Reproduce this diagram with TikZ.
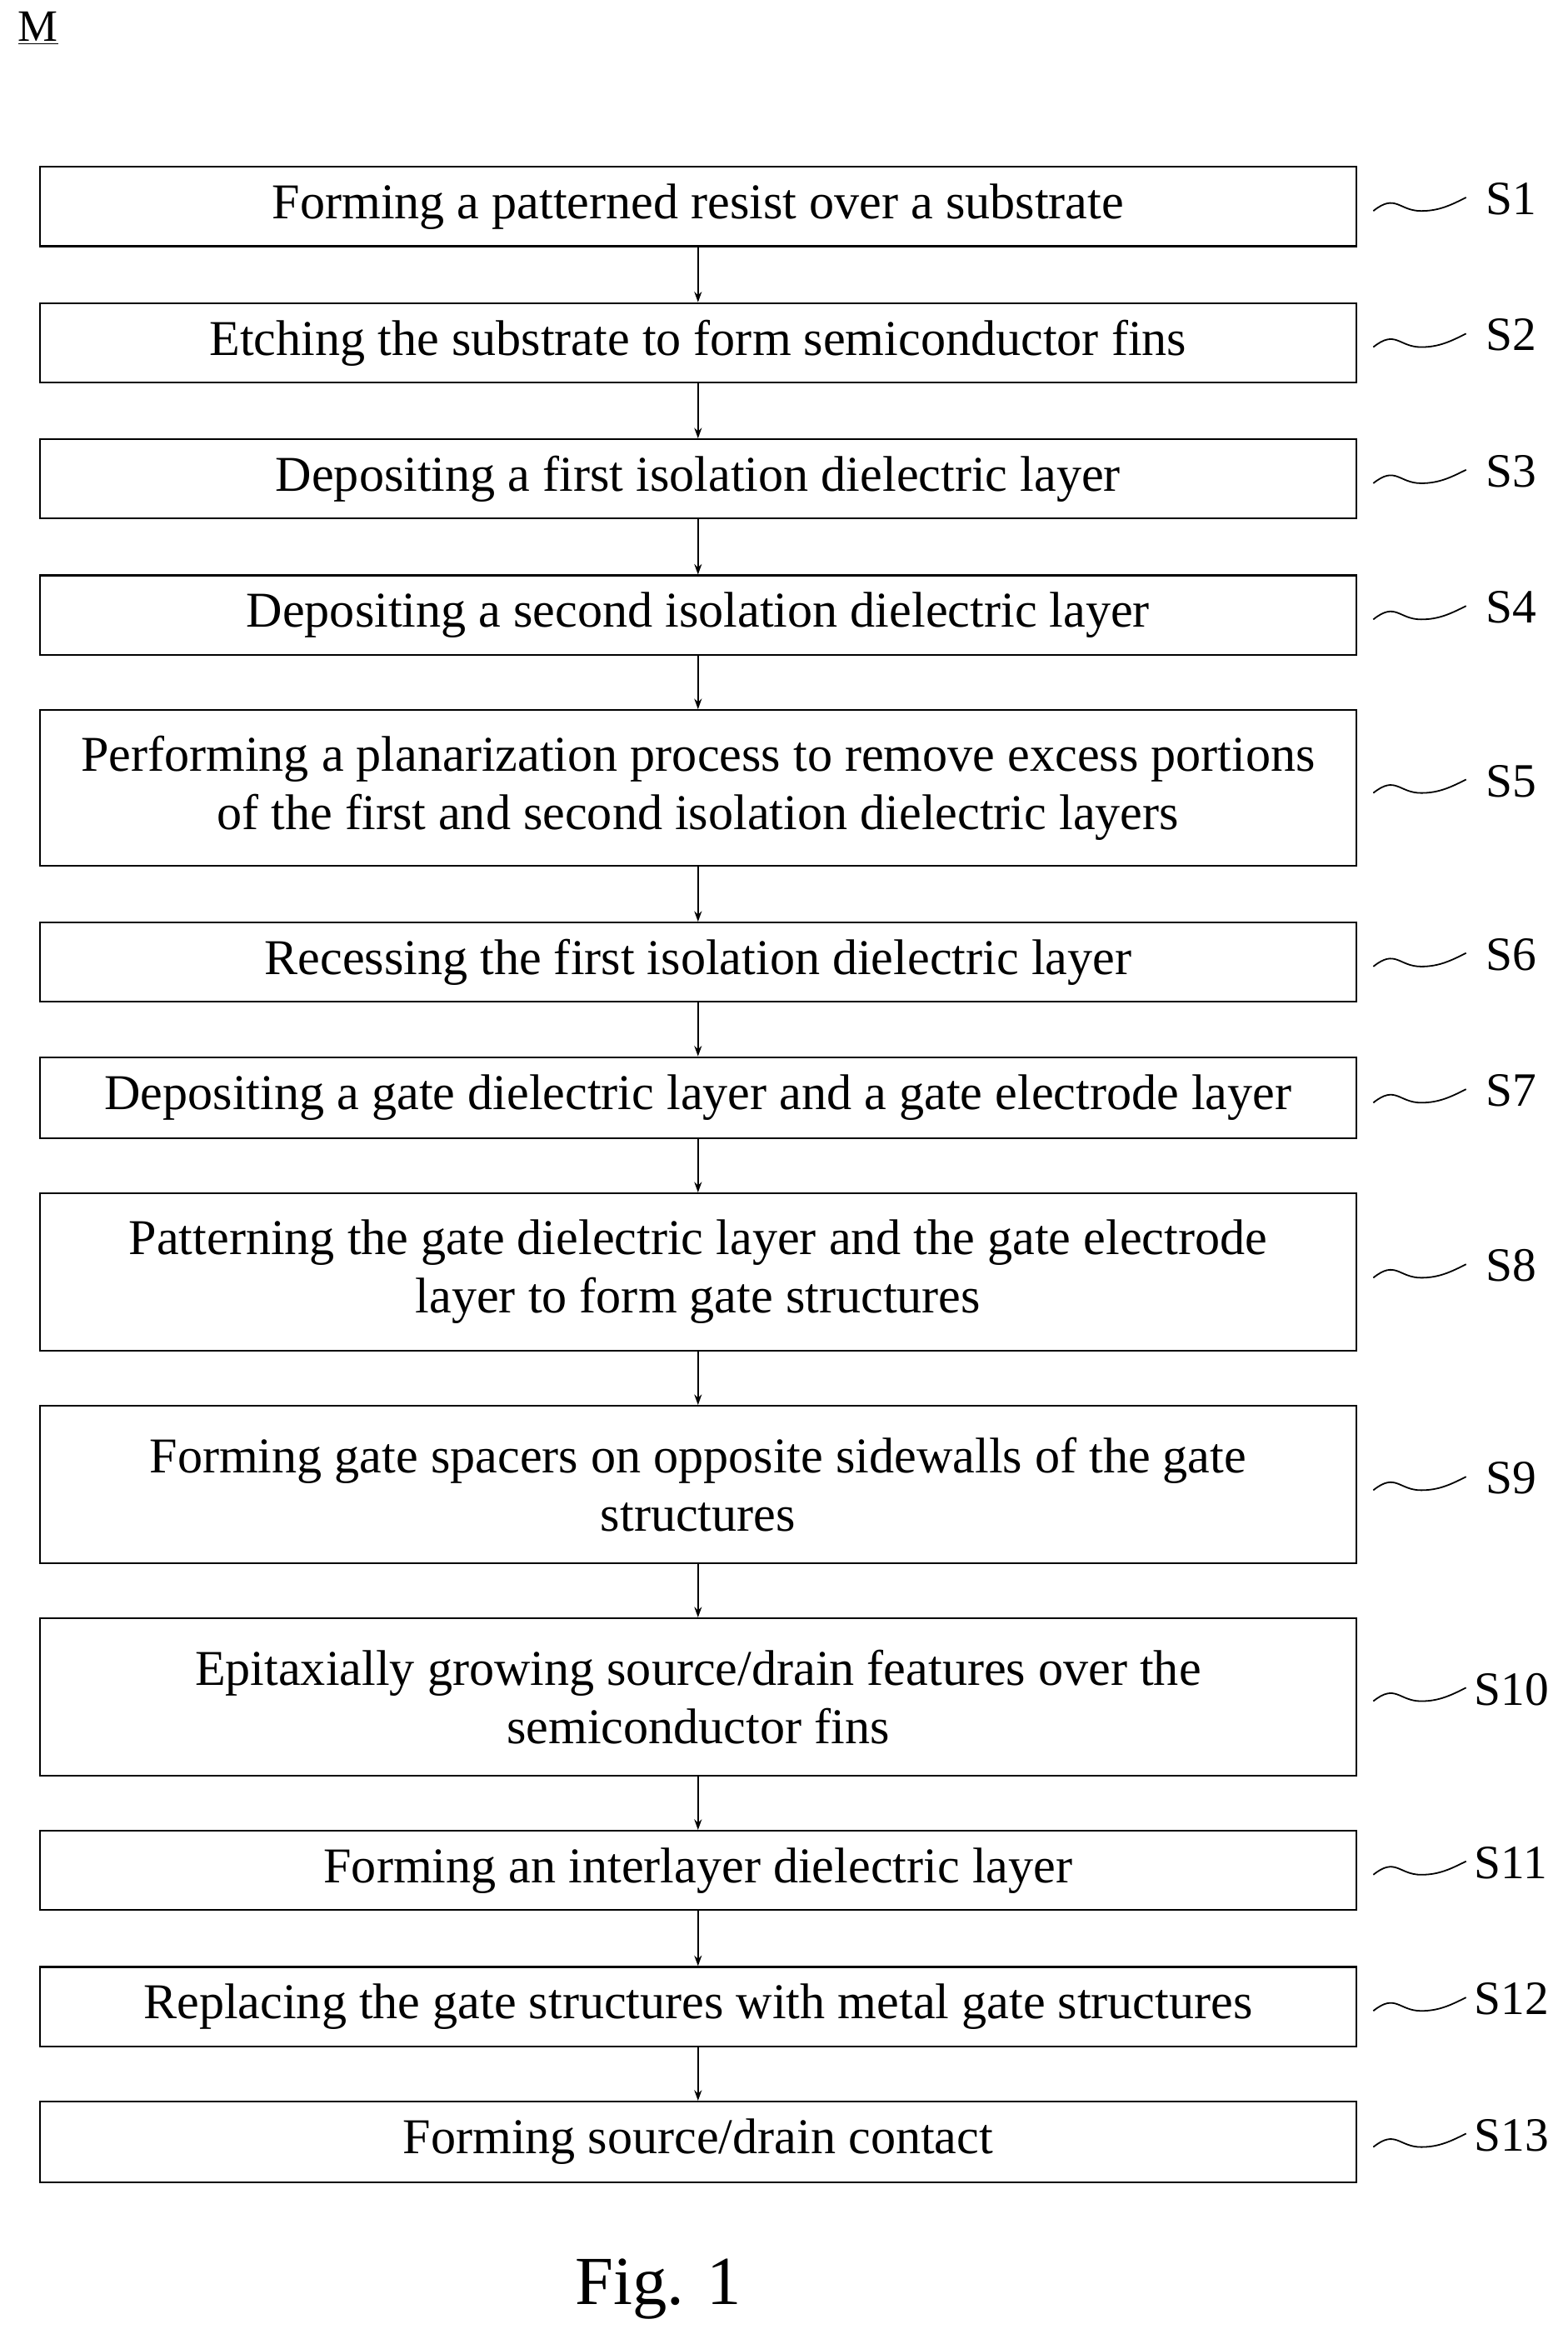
\documentclass[tikz,border=0pt]{standalone}
\usepackage{fontspec}
\setmainfont{Liberation Serif}
\usetikzlibrary{arrows.meta}
\begin{document}
\begin{tikzpicture}[x=1pt,y=-1pt,
  stepbox/.style={draw,line width=1.2pt,minimum width=880pt,anchor=north west,align=center,font=\fontsize{33.5}{39}\selectfont,inner sep=0pt},
  arr/.style={-{Stealth[length=7pt,width=5pt]},line width=1pt},
  wave/.style={line width=1pt},
  lab/.style={font=\fontsize{32}{34}\selectfont,anchor=west}]
\useasboundingbox (0,0) rectangle (1048,1570);
\node[anchor=north west,font=\fontsize{30}{32}\selectfont,inner sep=0pt] (M) at (12,8) {\underline{M}};
\foreach \n/\y/\h/\t/\ly/\lx in {
 1/111/53/{Forming a patterned resist over a substrate}/133/990,
 2/202/53/{Etching the substrate to form semiconductor fins}/224/990,
 3/293/53/{Depositing a first isolation dielectric layer}/315/990,
 4/384/53/{Depositing a second isolation dielectric layer}/406/990,
 5/474/104/{Performing a planarization process to remove excess portions\\of the first and second isolation dielectric layers}/522/990,
 6/616/53/{Recessing the first isolation dielectric layer}/638/990,
 7/706/54/{Depositing a gate dielectric layer and a gate electrode layer}/729/990,
 8/797/105/{Patterning the gate dielectric layer and the gate electrode\\layer to form gate structures}/846/990,
 9/939/105/{Forming gate spacers on opposite sidewalls of the gate\\structures}/988/990,
 10/1081/105/{Epitaxially growing source/drain features over the\\semiconductor fins}/1129/982,
 11/1223/53/{Forming an interlayer dielectric layer}/1245/982,
 12/1314/53/{Replacing the gate structures with metal gate structures}/1336/982,
 13/1404/54/{Forming source/drain contact}/1427/982}{
  \node[stepbox,minimum height=\h pt] (s\n) at (26,\y) {\t};
  \coordinate (w\n) at (918,\ly+8);
  \draw[wave] (w\n) .. controls ++(15,-12) and ++(-15,0) .. ++(32,0) .. controls ++(12,0) and ++(-10,5) .. ++(30,-9);
  \node[lab] (l\n) at (\lx,\ly) {S\n};
}
\foreach \a/\b in {1/2,2/3,3/4,4/5,5/6,6/7,7/8,8/9,9/10,10/11,11/12,12/13}{
  \draw[arr] (s\a.south) -- (s\b.north);
}
\node[font=\fontsize{46}{48}\selectfont] (fig) at (440,1530) {Fig. 1};
\end{tikzpicture}
\end{document}
